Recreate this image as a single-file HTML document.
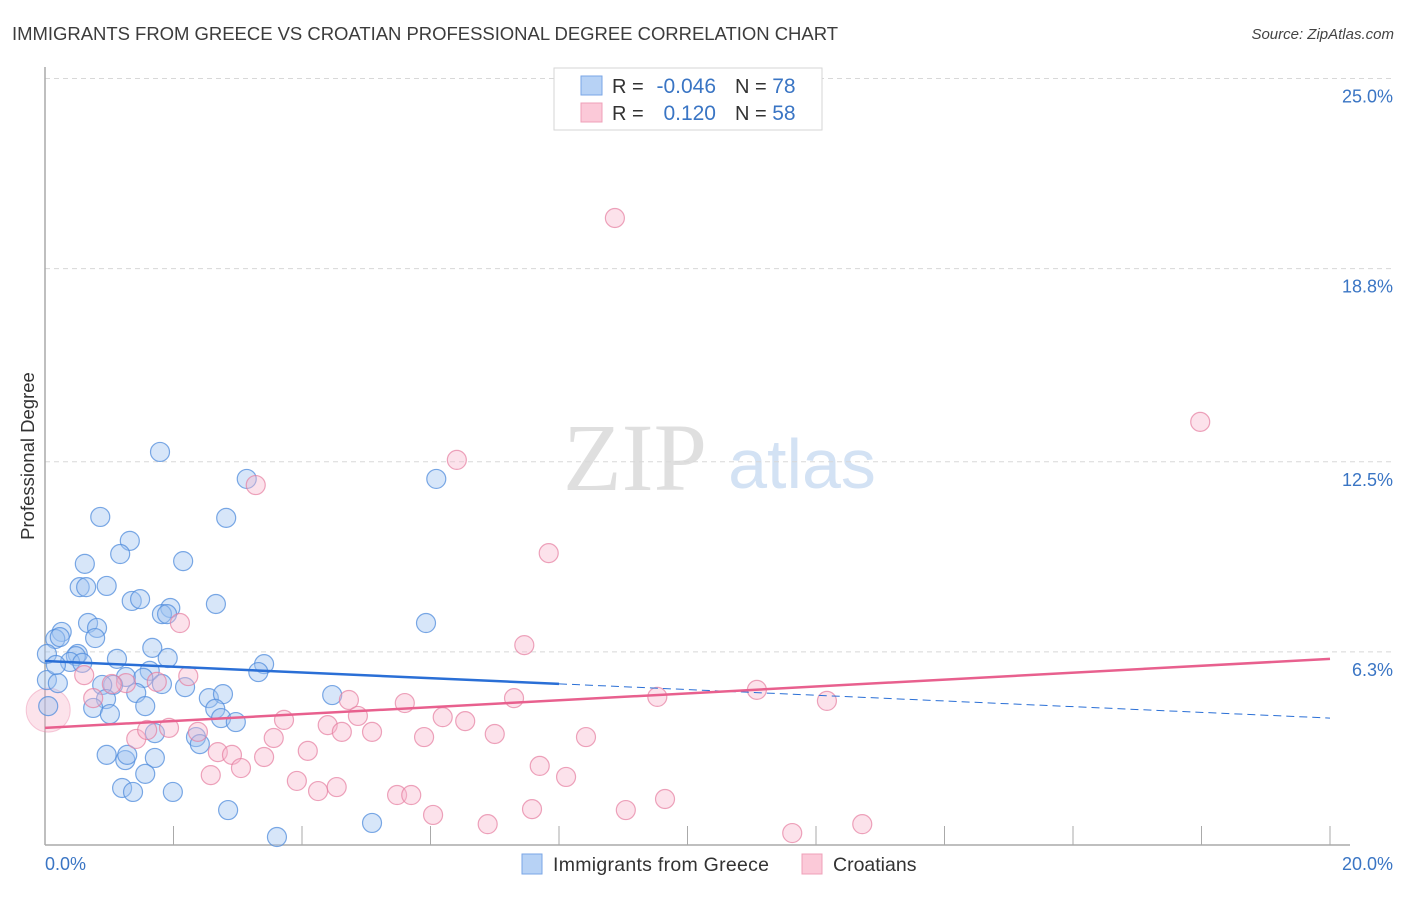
<!DOCTYPE html>
<html><head><meta charset="utf-8"><style>
html,body{margin:0;padding:0;background:#fff;}
body{width:1406px;height:892px;overflow:hidden;font-family:"Liberation Sans",sans-serif;}
</style></head><body>
<svg id="chart" width="1406" height="892" xmlns="http://www.w3.org/2000/svg" style="font-family:'Liberation Sans',sans-serif">
<text x="12" y="40" font-size="18.5" fill="#3c3c3c" textLength="826">IMMIGRANTS FROM GREECE VS CROATIAN PROFESSIONAL DEGREE CORRELATION CHART</text>
<text x="1394" y="39" font-size="15" fill="#444" font-style="italic" text-anchor="end">Source: ZipAtlas.com</text>
<text transform="translate(34,456) rotate(-90)" font-size="18.5" fill="#333" text-anchor="middle">Professional Degree</text>
<g>
<text x="635" y="490" font-size="96" fill="#d8d8d8" font-family="'Liberation Serif',serif" text-anchor="middle" opacity="0.8">ZIP</text>
<text x="802" y="488" font-size="70" fill="#c9dbf2" text-anchor="middle" opacity="0.8">atlas</text>
</g>
<g id="grid"></g>
<g id="axes"></g>
<g id="marks"></g>
<g id="trends"></g>
<g>
<rect x="554" y="68" width="268" height="62" fill="#fff" stroke="#d6d6d6"/>
<rect x="581" y="76" width="21" height="19" fill="#b7d2f5" stroke="#7aa6e6"/>
<rect x="581" y="103" width="21" height="19" fill="#fbc9d8" stroke="#efa0b8"/>
<text x="612" y="93" font-size="20" fill="#333">R = </text>
<text x="716" y="93" font-size="21" fill="#3a75c4" text-anchor="end">-0.046</text>
<text x="735" y="93" font-size="20" fill="#333">N = <tspan fill="#3a75c4" font-size="21">78</tspan></text>
<text x="612" y="120" font-size="20" fill="#333">R = </text>
<text x="716" y="120" font-size="21" fill="#3a75c4" text-anchor="end">0.120</text>
<text x="735" y="120" font-size="20" fill="#333">N = <tspan fill="#3a75c4" font-size="21">58</tspan></text>
</g>
<g>
<rect x="522" y="854" width="20" height="20" fill="#b7d2f5" stroke="#7aa6e6"/>
<text x="553" y="871" font-size="19.5" fill="#333" textLength="216">Immigrants from Greece</text>
<rect x="802" y="854" width="20" height="20" fill="#fbc9d8" stroke="#efa0b8"/>
<text x="833" y="871" font-size="19.5" fill="#333">Croatians</text>
</g>
</svg>
<script>
const yTicks=[25.0,18.8,12.5,6.3];
const yTickLabels=["25.0%","18.8%","12.5%","6.3%"];
const xTickCount=10;
const xLabels=["0.0%","20.0%"];
const greeceX=[1.79,3.14,6.09,0.86,2.82,1.32,1.17,2.15,0.62,0.54,0.64,0.96,1.35,1.48,2.66,1.95,1.82,1.90,0.67,5.93,0.26,0.81,0.16,0.23,0.78,1.67,0.03,1.91,0.51,0.48,1.12,0.39,0.58,3.41,3.32,1.63,1.26,1.53,0.03,0.20,1.82,2.18,1.06,0.89,1.42,2.55,2.77,0.95,1.56,4.47,2.65,0.75,1.01,2.74,2.97,2.35,2.41,1.71,0.96,1.25,1.28,1.71,1.56,1.20,1.37,1.99,2.85,5.09,3.61,0.05,0.17];
const greeceY=[12.82,11.94,11.94,10.70,10.67,9.92,9.49,9.26,9.17,8.41,8.41,8.45,7.96,8.02,7.86,7.73,7.53,7.53,7.24,7.24,6.95,7.08,6.72,6.78,6.75,6.43,6.23,6.10,6.23,6.16,6.07,5.97,5.94,5.90,5.64,5.68,5.48,5.45,5.38,5.28,5.25,5.15,5.22,5.22,4.96,4.79,4.92,4.76,4.53,4.89,4.44,4.47,4.27,4.14,4.01,3.52,3.29,3.65,2.94,2.77,2.94,2.84,2.32,1.86,1.73,1.73,1.14,0.72,0.26,4.53,5.87];
const croatX=[8.87,17.98,6.41,3.28,7.84,2.10,7.46,2.23,1.74,1.26,1.04,0.61,0.75,11.08,9.53,12.17,7.30,5.60,4.73,4.87,6.19,6.54,3.72,4.40,5.09,4.62,7.00,5.90,8.42,3.56,1.42,1.59,1.93,2.38,2.69,2.91,3.41,4.09,2.58,3.05,7.70,8.11,3.92,4.25,4.54,5.48,5.70,6.04,7.58,9.04,9.65,6.89,11.63,12.72];
const croatY=[20.45,13.80,12.56,11.74,9.52,7.24,6.52,5.51,5.32,5.28,5.25,5.54,4.79,5.06,4.83,4.70,4.79,4.63,4.73,4.21,4.17,4.04,4.08,3.91,3.69,3.69,3.62,3.52,3.52,3.49,3.46,3.75,3.82,3.69,3.03,2.94,2.87,3.07,2.28,2.51,2.58,2.22,2.09,1.76,1.89,1.63,1.63,0.98,1.17,1.14,1.50,0.68,0.39,0.68];
const greeceTrend=[6.00,-0.093];
const croatTrend=[3.82,0.1125];
const X0=45,X1=1330,Y0=845,PX_PER=30.66;
function sx(v){return X0+(X1-X0)*v/20;}
function sy(v){return Y0-v*PX_PER;}
const NS="http://www.w3.org/2000/svg";
function mk(tag,attrs,parent){const e=document.createElementNS(NS,tag);for(const k in attrs)e.setAttribute(k,attrs[k]);parent.appendChild(e);return e;}
const grid=document.getElementById('grid'),axes=document.getElementById('axes'),marks=document.getElementById('marks'),trends=document.getElementById('trends');
yTicks.forEach((t,i)=>{
 const l=mk('line',{x1:X0,x2:1393,y1:sy(t),y2:sy(t),stroke:'#d8d8d8','stroke-dasharray':'5,4'},grid);
 
 
 const tx=mk('text',{x:1393,y:sy(t)+24,'font-size':18,fill:'#3a75c4','text-anchor':'end'},grid);
 tx.textContent=yTickLabels[i];
 
 
});
const ya=mk('line',{x1:X0,x2:X0,y1:67,y2:Y0,stroke:'#aaa','stroke-width':1.5},axes);


const xa=mk('line',{x1:X0,x2:X1+20,y1:Y0,y2:Y0,stroke:'#aaa','stroke-width':1.5},axes);


for(let i=1;i<=xTickCount;i++){
 const v=20*i/xTickCount;
 const t=mk('line',{x1:sx(v),x2:sx(v),y1:826,y2:Y0,stroke:'#aaa'},axes);
 
 
}
[[0,'start',45],[20,'end',1393]].forEach((d,i)=>{
 const tx=mk('text',{x:d[2],y:870,'font-size':18,fill:'#3a75c4','text-anchor':d[1]},axes);
 tx.textContent=xLabels[i];
 
 
});
const big1=mk('circle',{cx:sx(0.05),cy:sy(4.4),r:22,fill:'rgba(245,175,198,0.35)',stroke:'rgba(232,130,165,0.4)'},marks);


greeceX.forEach((x,i)=>{
 const c=mk('circle',{cx:sx(x),cy:sy(greeceY[i]),r:9.5,fill:'rgba(160,196,240,0.42)',stroke:'rgba(80,140,220,0.75)','stroke-width':1.2},marks);
 
 
});
croatX.forEach((x,i)=>{
 const c=mk('circle',{cx:sx(x),cy:sy(croatY[i]),r:9.5,fill:'rgba(248,182,204,0.4)',stroke:'rgba(230,125,160,0.7)','stroke-width':1.2},marks);
 
 
});
function ty(tr,x){return tr[0]+tr[1]*x;}
const b1=mk('line',{x1:sx(0),y1:sy(ty(greeceTrend,0)),x2:sx(8),y2:sy(ty(greeceTrend,8)),stroke:'#2a6fd6','stroke-width':2.5},trends);


const b2=mk('line',{x1:sx(8),y1:sy(ty(greeceTrend,8)),x2:sx(20),y2:sy(ty(greeceTrend,20)),stroke:'#2a6fd6','stroke-width':1,'stroke-dasharray':'8,5'},trends);


const p1=mk('line',{x1:sx(0),y1:sy(ty(croatTrend,0)),x2:sx(20),y2:sy(ty(croatTrend,20)),stroke:'#e8608e','stroke-width':2.5},trends);


</script>
</body></html>
